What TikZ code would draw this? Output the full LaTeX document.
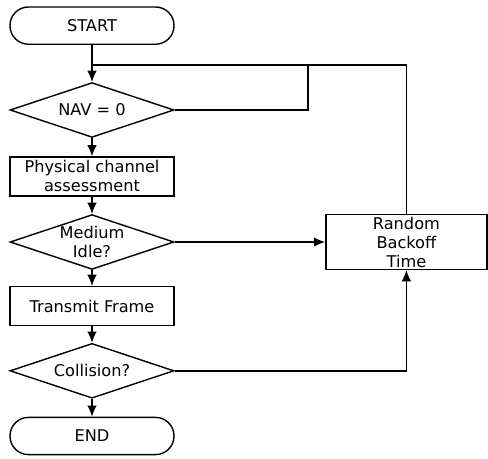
\documentclass[tikz,border=0pt]{standalone}
\usepackage{fontspec}
\setmainfont{DejaVu Sans}
\usepackage{tikz}
\usetikzlibrary{shapes.geometric, positioning, arrows.meta}

\begin{document}
\begin{tikzpicture}[
        >={Latex[length=2.8mm, width=2.4mm]}, % Sets arrow style
        line width=1pt,
        every node/.style={font=\fontsize{11.5}{13.5}\selectfont, align=center},
        terminal/.style={draw, rectangle, rounded corners=4.6mm, minimum width=4.1cm, minimum height=0.93cm},
        process/.style={draw, rectangle, minimum width=4.1cm, minimum height=0.97cm, inner sep=1pt},
        decision/.style={draw, diamond, aspect=3, inner sep=0pt, minimum width=4.1cm, minimum height=1.37cm}
    ]
    \useasboundingbox (0,0) rectangle (12.2,-11.45);

    % --- Main column ---
    \node[terminal] (start) at (2.3, -0.64) {START};
    \node[decision] (nav) at (2.3, -2.75) {NAV = 0};
    \node[process] (phys) at (2.3, -4.41) {Physical channel\\assessment};
    \node[decision] (idle) at (2.3, -6.05) {Medium\\Idle?};
    \node[process] (transmit) at (2.3, -7.65) {Transmit Frame};
    \node[decision] (collision) at (2.3, -9.27) {Collision?};
    \node[terminal] (end) at (2.3, -10.9) {END};

    % --- Backoff ---
    \node[process, minimum width=4.03cm, minimum height=1.37cm] (backoff) at (10.16, -6.05) {Random\\Backoff\\Time};

    % --- Loop points ---
    \coordinate (merge) at (2.3, -1.625);
    \coordinate (navloop) at (7.7, -1.625);

    % --- Edges in the main column ---
    \draw[->] (start) -- (nav);
    \draw[->] (nav) -- (phys);
    \draw[->] (phys) -- (idle);
    \draw[->] (idle) -- (transmit);
    \draw[->] (transmit) -- (collision);
    \draw[->] (collision) -- (end);

    % --- Edges to and from the backoff ---
    \draw[->] (idle.east) -- (backoff.west);
    \draw[->] (collision.east) -| (backoff.south);
    \draw (backoff.north) |- (merge);
    \draw (nav.east) -| (navloop);

\end{tikzpicture}
\end{document}
